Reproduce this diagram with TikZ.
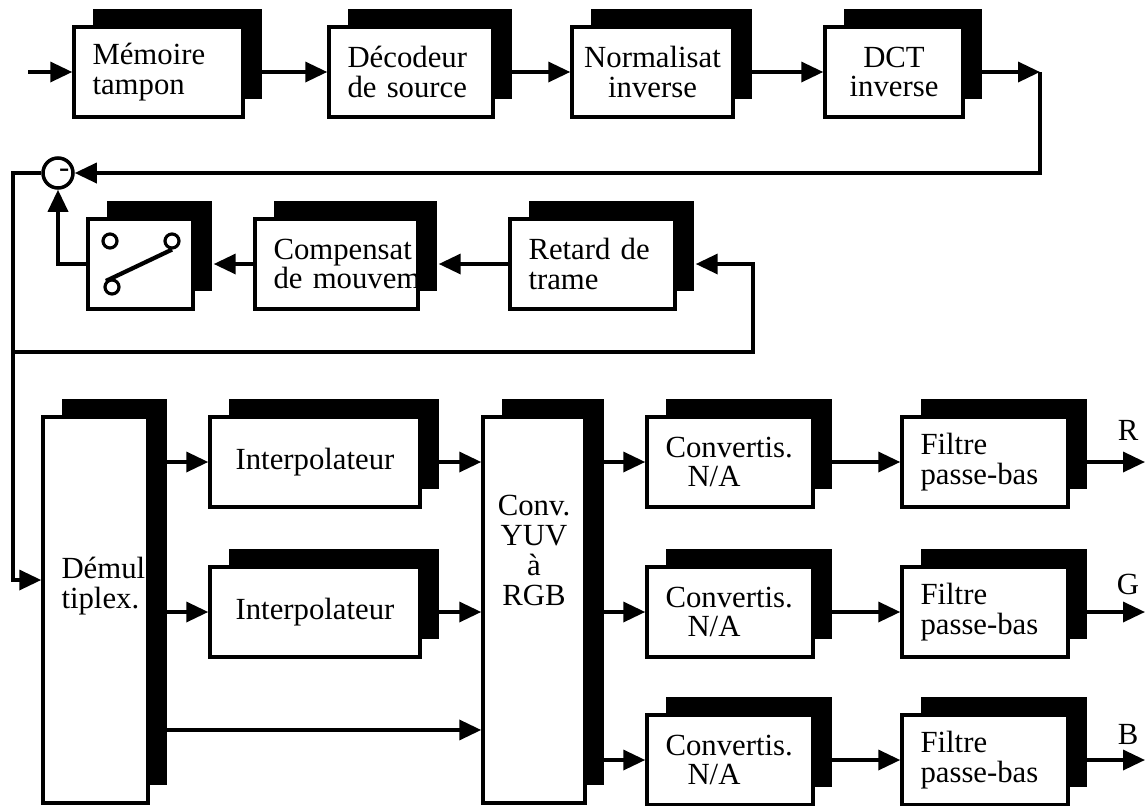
\documentclass[tikz,border=0pt]{standalone}
\usepackage{fontspec}
\setmainfont{Liberation Serif}
\usetikzlibrary{arrows.meta}
\usetikzlibrary{shadows}

\begin{document}
\begin{tikzpicture}[
    x=0.02cm, y=-0.02cm,
    every node/.style={font=\fontsize{17.5}{17}\selectfont},
    blk/.style={draw, line width=2pt, fill=white, inner xsep=0.15cm, inner ysep=0pt,
        minimum height=1.8cm, align=center,
        general shadow={fill=black, shadow xshift=0.38cm, shadow yshift=0.36cm}},
    lblk/.style={blk, inner xsep=0.37cm, align=left, text width=#1},
    arr/.style={-{Triangle[length=0.44cm, width=0.4cm]}, line width=2pt},
    sumnode/.style={draw, circle, line width=2pt, minimum size=0.6cm, inner sep=0pt},
    pin/.style={draw, circle, line width=1.8pt, minimum size=0.28cm, inner sep=0pt},
]
\useasboundingbox (0,0) rectangle (1146,805);
% === Row 1: decoding chain ===
\coordinate (in) at (28,72);
\node[lblk=2.64cm] (mem) at (158.5,72) {Mémoire\\tampon};
\node[lblk=2.54cm] (dec) at (411,72) {Décodeur\\de source};
\node[blk, minimum width=3.22cm] (norm) at (652.5,72) {Normalisat\\inverse};
\node[blk, minimum width=2.76cm] (dct) at (894,72) {DCT\\inverse};
\coordinate (turn) at (1040,72);
\draw[arr] (in) -- (mem);
\draw[arr] (mem) -- (dec);
\draw[arr] (dec) -- (norm);
\draw[arr] (norm) -- (dct);
\draw[arr] (dct) -- (turn);
% === Row 2: prediction loop ===
\node[sumnode] (sub) at (58,173) {\hspace*{0.25cm}-};
\node[blk, minimum width=2.1cm] (sw) at (140.5,264) {};
\node[pin] (p1) at (110,241) {};
\node[pin] (p2) at (172,241) {};
\node[pin] (p3) at (112,287) {};
\draw[line width=2.4pt] (p3.north west) -- (p2.south);
\node[lblk=2.52cm] (comp) at (336.5,264) {Compensat\\\mbox{de mouvem}};
\node[lblk=2.56cm] (ret) at (592.5,264) {Retard de\\trame};
\coordinate (jn) at (13,352);
\coordinate (fb) at (753,352);
\draw[arr] (turn) |- (sub.east);
\draw[arr] (sw.west) -| (sub.south);
\draw[arr] (comp.west) -- ([xshift=0.38cm]sw.east);
\draw[arr] (ret.west) -- ([xshift=0.38cm]comp.east);
\draw[arr] (jn) -- (fb) |- ([xshift=0.38cm]ret.east);
% === Row 3: demultiplexing and output ===
\node[lblk=1.36cm, minimum height=7.72cm] (dem) at (95.5,610) {Démul\\tiplex.\\[0.5cm]\mbox{}};
\node[blk, minimum width=4.2cm] (int1) at (315,462) {Interpolateur};
\node[blk, minimum width=4.2cm] (int2) at (315,612) {Interpolateur};
\node[blk, minimum width=2.04cm, minimum height=7.72cm] (conv) at (534,610) {Conv.\\YUV\\à\\RGB\\[1.8cm]};
\node[lblk=2.58cm] (na1) at (730,462) {Convertis.\\\hspace*{0.44cm}N/A};
\node[lblk=2.58cm] (na2) at (730,612) {Convertis.\\\hspace*{0.44cm}N/A};
\node[lblk=2.58cm] (na3) at (730,760) {Convertis.\\\hspace*{0.44cm}N/A};
\node[lblk=2.58cm] (fil1) at (985,462) {Filtre\\passe-bas};
\node[lblk=2.58cm] (fil2) at (985,612) {Filtre\\passe-bas};
\node[lblk=2.58cm] (fil3) at (985,760) {Filtre\\passe-bas};
\coordinate (oR) at (1145,462);
\coordinate (oG) at (1145,612);
\coordinate (oB) at (1145,760);
\node (lR) at (1128,430) {R};
\node (lG) at (1128,584) {G};
\node (lB) at (1128,734) {B};
\draw[arr] (sub.west) -| (jn) |- ([yshift=0.6cm]dem.west);
\draw[arr] (dem.east |- int1.west) -- (int1.west);
\draw[arr] (dem.east |- int2.west) -- (int2.west);
\draw[arr] ([yshift=-2.4cm]dem.east) -- ([yshift=-2.4cm]conv.west);
\draw[arr] (int1.east) -- (int1.east -| conv.west);
\draw[arr] (int2.east) -- (int2.east -| conv.west);
\draw[arr] (conv.east |- na1.west) -- (na1.west);
\draw[arr] (conv.east |- na2.west) -- (na2.west);
\draw[arr] (conv.east |- na3.west) -- (na3.west);
\draw[arr] (na1) -- (fil1);
\draw[arr] (na2) -- (fil2);
\draw[arr] (na3) -- (fil3);
\draw[arr] (fil1) -- (oR);
\draw[arr] (fil2) -- (oG);
\draw[arr] (fil3) -- (oB);
\end{tikzpicture}
\end{document}
